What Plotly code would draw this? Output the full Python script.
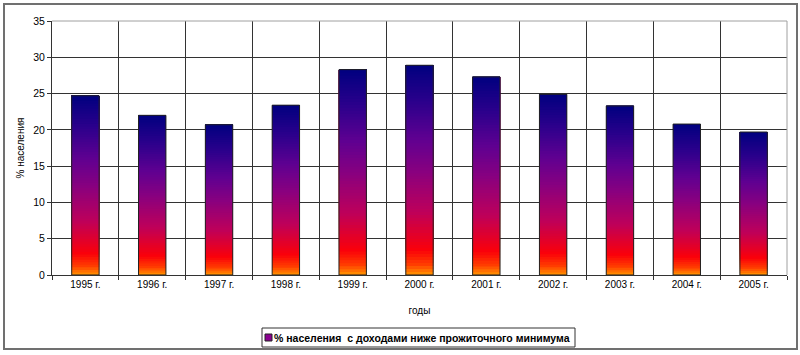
import plotly.graph_objects as go

years = ["1995 г.", "1996 г.", "1997 г.", "1998 г.", "1999 г.", "2000 г.",
         "2001 г.", "2002 г.", "2003 г.", "2004 г.", "2005 г."]
values = [24.7, 22.0, 20.7, 23.4, 28.3, 28.9, 27.3, 24.9, 23.3, 20.8, 19.7]
series_name = "% населения  с доходами ниже прожиточного минимума"
y_ticks = [0, 5, 10, 15, 20, 25, 30, 35]

# gradient stops (fraction of bar height, rgb)
stops = [(0.00, (255, 150, 0)), (0.05, (255, 60, 0)), (0.12, (250, 0, 10)),
         (0.30, (190, 0, 90)), (0.50, (135, 0, 128)), (0.65, (95, 0, 145)),
         (0.82, (45, 0, 140)), (1.00, (0, 0, 128))]


def grad(f):
    for (f0, c0), (f1, c1) in zip(stops[:-1], stops[1:]):
        if f <= f1:
            t = (f - f0) / (f1 - f0) if f1 > f0 else 0
            return "rgb(%d,%d,%d)" % tuple(round(a + (b - a) * t) for a, b in zip(c0, c1))
    return "rgb(%d,%d,%d)" % stops[-1][1]


N = 70
fig = go.Figure()
for k in range(N):
    # each strip runs from k/N up to the top; later strips cover the upper part
    fig.add_trace(go.Bar(
        x=years, y=[v * (N - k) / N for v in values], base=[v * k / N for v in values],
        marker=dict(color=grad((k + 0.5) / N), line=dict(width=0)),
        showlegend=False, hoverinfo="skip"))

# outline
fig.add_trace(go.Bar(x=years, y=values, marker=dict(color="rgba(0,0,0,0)",
                     line=dict(color="#222", width=1)), showlegend=False,
                     hovertemplate="%{x}: %{y}<extra></extra>"))

W, H = 800, 355
L, R, T, B = 52, 13, 21, 80
pw, ph = W - L - R, H - T - B


def px(x):
    return (x - L) / pw


def py(y):
    return (H - B - y) / ph


fig.update_layout(
    width=W, height=H, margin=dict(l=L, r=R, t=T, b=B, autoexpand=False),
    paper_bgcolor="white", plot_bgcolor="white",
    barmode="overlay", bargap=0.59,
    font=dict(family="Liberation Sans, Arial", size=10, color="black"),
    showlegend=False,
    xaxis=dict(type="category", tickson="boundaries", showgrid=True, gridcolor="#333",
               gridwidth=1, ticks="outside", ticklen=4, tickcolor="#333",
               showline=True, linecolor="#333", linewidth=1, automargin=False,
               title=dict(text="годы", standoff=17, font=dict(size=10))),
    yaxis=dict(range=[0, 35], tickvals=y_ticks, showgrid=True, gridcolor="#333",
               gridwidth=1, ticks="outside", ticklen=4, tickcolor="#333",
               showline=True, linecolor="#333", linewidth=1, zeroline=False,
               automargin=False, tickfont=dict(size=10.5),
               title=dict(text="% населения", standoff=6, font=dict(size=10))),
    shapes=[
        dict(type="line", xref="paper", yref="paper", x0=0, x1=1, y0=1, y1=1,
             line=dict(color="#a0a0a0", width=1), layer="above"),
        dict(type="line", xref="paper", yref="paper", x0=1, x1=1, y0=0, y1=1,
             line=dict(color="#a0a0a0", width=1), layer="above"),
        dict(type="rect", xref="paper", yref="paper", x0=px(4), x1=px(797),
             y0=py(349), y1=py(4), line=dict(color="#707070", width=2), layer="below"),
        # legend box
        dict(type="rect", xref="paper", yref="paper", x0=px(262), x1=px(575),
             y0=py(347), y1=py(328), line=dict(color="#333", width=1),
             fillcolor="white", layer="above"),
        # legend key
        dict(type="rect", xref="paper", yref="paper", x0=px(265), x1=px(272),
             y0=py(341), y1=py(334), line=dict(color="#222", width=1),
             fillcolor="#8a0090", layer="above"),
    ],
    annotations=[
        dict(text="<b>" + series_name + "</b>", xref="paper", yref="paper",
             x=px(272), y=py(337.5), xanchor="left", yanchor="middle", showarrow=False,
             font=dict(size=10.5, color="black", family="Liberation Sans, Arial")),
    ],
)
fig.write_html("out.html", config={"displayModeBar": False},
               post_script="document.body.style.margin='0';")
